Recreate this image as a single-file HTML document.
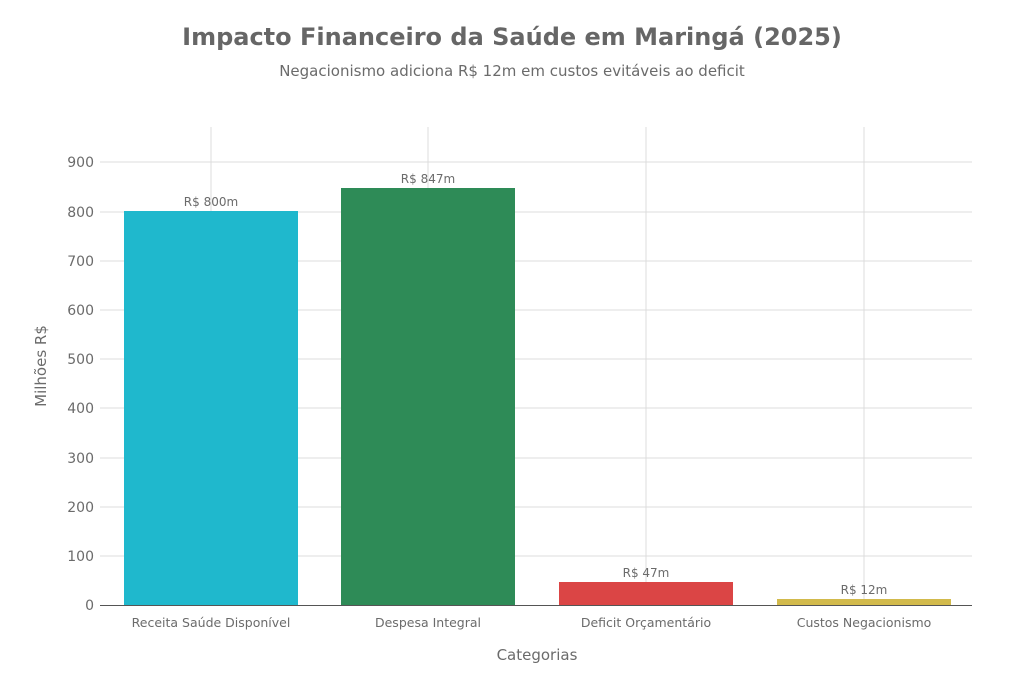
<!DOCTYPE html>
<html><head><meta charset="utf-8"><style>
body{margin:0;background:#fff;width:1024px;height:683px;overflow:hidden}
svg text{font-family:"DejaVu Sans","Liberation Sans",sans-serif}
</style></head><body>
<svg width="1024" height="683" viewBox="0 0 1024 683" xmlns="http://www.w3.org/2000/svg">
<rect width="1024" height="683" fill="#fff"/>
<text x="512" y="45" text-anchor="middle" font-size="24" font-weight="bold" fill="#666">Impacto Financeiro da Saúde em Maringá (2025)</text>
<text x="512" y="76" text-anchor="middle" font-size="15" fill="#6b6b6b">Negacionismo adiciona R$ 12m em custos evitáveis ao deficit</text>
<g stroke="#dcdcdc" stroke-width="1">
<line x1="211" y1="127" x2="211" y2="605"/><line x1="428" y1="127" x2="428" y2="605"/>
<line x1="646" y1="127" x2="646" y2="605"/><line x1="864" y1="127" x2="864" y2="605"/>
<line x1="100" y1="556" x2="972" y2="556"/><line x1="100" y1="507" x2="972" y2="507"/>
<line x1="100" y1="458" x2="972" y2="458"/><line x1="100" y1="408" x2="972" y2="408"/>
<line x1="100" y1="359" x2="972" y2="359"/><line x1="100" y1="310" x2="972" y2="310"/>
<line x1="100" y1="261" x2="972" y2="261"/><line x1="100" y1="212" x2="972" y2="212"/>
<line x1="100" y1="162" x2="972" y2="162"/>
</g>
<rect x="124" y="211" width="174" height="394" fill="#1FB8CD"/>
<rect x="341" y="188" width="174" height="417" fill="#2E8B57"/>
<rect x="559" y="582" width="174" height="23" fill="#DB4545"/>
<rect x="777" y="599" width="174" height="6" fill="#D2BA4C"/>
<line x1="100" y1="605.5" x2="972" y2="605.5" stroke="#555" stroke-width="1"/>
<g font-size="12" fill="#6b6b6b" text-anchor="middle">
<text x="211" y="206">R$ 800m</text><text x="428" y="183">R$ 847m</text>
<text x="646" y="577">R$ 47m</text><text x="864" y="594">R$ 12m</text>
</g>
<g font-size="14" fill="#6b6b6b" text-anchor="end">
<text x="94" y="610">0</text><text x="94" y="561">100</text><text x="94" y="512">200</text>
<text x="94" y="463">300</text><text x="94" y="413">400</text><text x="94" y="364">500</text>
<text x="94" y="315">600</text><text x="94" y="266">700</text><text x="94" y="217">800</text>
<text x="94" y="167">900</text>
</g>
<g font-size="12.5" fill="#6b6b6b" text-anchor="middle">
<text x="211" y="627">Receita Saúde Disponível</text><text x="428" y="627">Despesa Integral</text>
<text x="646" y="627">Deficit Orçamentário</text><text x="864" y="627">Custos Negacionismo</text>
</g>
<text x="537" y="660" text-anchor="middle" font-size="15" fill="#6b6b6b">Categorias</text>
<text transform="translate(46,366) rotate(-90)" text-anchor="middle" font-size="15" fill="#6b6b6b">Milhões R$</text>
</svg>
</body></html>
